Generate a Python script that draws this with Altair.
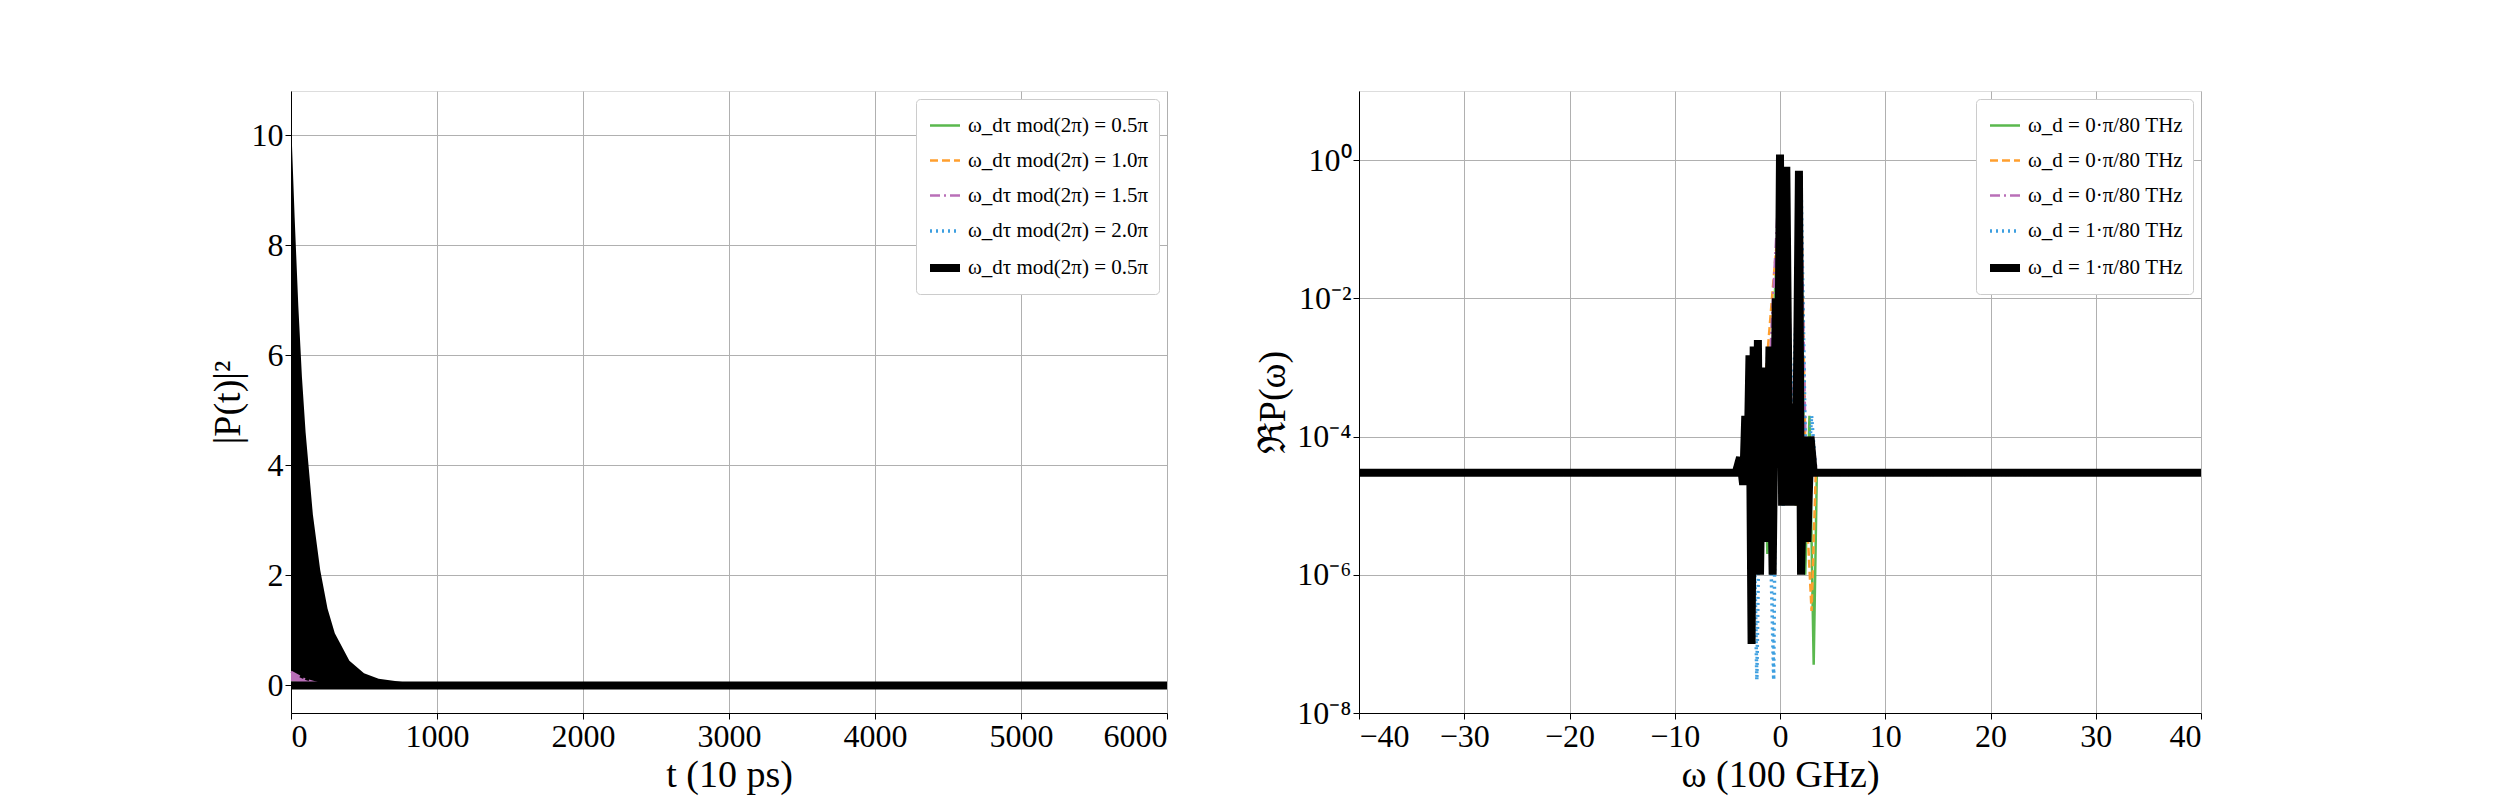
import altair as alt
import pandas as pd

FONT = "Liberation Serif"

# ---------- left panel data ----------
env_t = [0, 25, 50, 75, 100, 150, 200, 250, 300, 400, 500, 600, 800, 1000, 1500, 6000]
env_y = [10.3, 8.5, 6.9, 5.6, 4.6, 3.1, 2.1, 1.4, 0.95, 0.45, 0.22, 0.12, 0.05, 0.02, 0.0, 0.0]

purple_t = [0, 50, 100, 150, 200, 250, 300, 6000]
purple_y = [0.25, 0.16, 0.1, 0.06, 0.03, 0.01, 0.0, 0.0]

left_t = [0, 100, 200, 300, 500, 1000, 6000]
left_series = {
    "a": [0.05, 0.03, 0.01, 0.0, 0.0, 0.0, 0.0],
    "b": [0.04, 0.02, 0.01, 0.0, 0.0, 0.0, 0.0],
    "c": [0.25, 0.1, 0.03, 0.0, 0.0, 0.0, 0.0],
    "d": [0.03, 0.02, 0.01, 0.0, 0.0, 0.0, 0.0],
    "e": [0.0, 0.0, 0.0, 0.0, 0.0, 0.0, 0.0],
}
left_labels = ["ω_dτ mod(2π) = 0.5π", "ω_dτ mod(2π) = 1.0π", "ω_dτ mod(2π) = 1.5π",
               "ω_dτ mod(2π) = 2.0π", "ω_dτ mod(2π) = 0.5π"]

# ---------- right panel data ----------
r_green_x = [-40, -4, -3, -2.6, -2.3, -2.0, -1.6, -1.2, -0.6, -0.2, 0.0, 0.3, 0.6, 1.0, 1.5, 2.0, 2.4, 2.8, 3.2, 3.5, 40]
r_green_y = [3e-5, 3e-5, 4e-5, 2e-6, 1e-3, 1e-6, 5e-4, 2e-6, 5e-3, 1e-1, 1.0, 1e-5, 5e-1, 1e-4, 1e-5, 3e-1, 1e-6, 2e-4, 5e-8, 3e-5, 3e-5]
r_orange_x = [-40, -4, -3, -2.6, -2.2, -1.8, -1.3, -0.6, -0.2, 0.0, 0.3, 0.6, 1.0, 1.6, 2.0, 2.5, 3.0, 3.4, 40]
r_orange_y = [3e-5, 3e-5, 5e-5, 1e-6, 1e-3, 2e-6, 1e-3, 2e-2, 1e-1, 1.0, 1e-5, 6e-1, 2e-4, 1e-5, 4e-1, 1e-5, 3e-7, 3e-5, 3e-5]
r_purple_x = [-40, -4, -3, -2.5, -2.1, -1.6, -0.8, 0.0, 0.4, 0.7, 1.2, 2.0, 2.6, 3.1, 3.5, 40]
r_purple_y = [3e-5, 3e-5, 4e-5, 3e-6, 8e-4, 3e-6, 4e-3, 0.9, 2e-5, 4e-1, 5e-5, 3e-1, 3e-6, 1e-4, 3e-5, 3e-5]
r_blue_x = [-40, -4, -3, -2.5, -2.2, -1.8, -1.2, -0.6, -0.3, 0.0, 0.3, 0.6, 1.1, 2.0, 2.5, 3.0, 3.4, 40]
r_blue_y = [3e-5, 3e-5, 4e-5, 1e-5, 3e-8, 1e-3, 3e-4, 3e-8, 1e-2, 1.0, 1e-5, 7e-1, 1e-4, 5e-1, 1e-5, 2e-4, 3e-5, 3e-5]
r_black_x = [-40, -4.2, -3.8, -3.5, -3.3, -3.1, -2.9, -2.7, -2.5, -2.3, -2.1, -1.9, -1.6, -1.3, -1.0, -0.7, -0.4, -0.2, 0.0, 0.2, 0.4, 0.6, 0.9, 1.2, 1.5, 1.8, 2.0, 2.3, 2.6, 2.9, 3.2, 3.5, 40]
r_black_y = [3e-5, 3e-5, 5e-5, 2e-5, 2e-4, 3e-5, 1.5e-3, 1e-7, 2e-3, 1e-6, 2.5e-3, 1e-6, 1e-3, 3e-6, 2e-3, 1e-6, 1e-2, 1e-4, 1.2, 1e-5, 1e-1, 8e-1, 1e-5, 3e-4, 1e-5, 7e-1, 1e-6, 1e-4, 3e-6, 1e-4, 3e-5, 3e-5, 3e-5]
right_labels = ["ω_d = 0·π/80 THz", "ω_d = 0·π/80 THz", "ω_d = 0·π/80 THz",
                "ω_d = 1·π/80 THz", "ω_d = 1·π/80 THz"]

keys = ["a", "b", "c", "d", "e"]
colors = ["#5ab84e", "#ff9f2e", "#b96fb8", "#3d9fe0", "#000000"]
dashes = [[1, 0], [8, 4], [10, 4, 2, 4], [2, 4], [1, 0]]
widths = [2.5, 2.5, 2.5, 3.5, 8]

rows = []
for k in keys:
    for t, y in zip(left_t, left_series[k]):
        rows.append({"t": t, "y": y, "s": k})
ldf = pd.DataFrame(rows)
env_df = pd.DataFrame({"t": env_t, "y": env_y})
pur_df = pd.DataFrame({"t": purple_t, "y": purple_y})

rrows = []
for k, xs, ys in zip(keys, [r_green_x, r_orange_x, r_purple_x, r_blue_x, r_black_x],
                     [r_green_y, r_orange_y, r_purple_y, r_blue_y, r_black_y]):
    for x, y in zip(xs, ys):
        rrows.append({"x": x, "y": y, "s": k})
rdf = pd.DataFrame(rrows)


def label_expr(labels):
    parts = " : ".join(f"datum.value == '{k}' ? '{l}'" for k, l in zip(keys, labels))
    return parts + " : ''"


def legend(labels):
    return alt.Legend(title=None, orient="top-right", labelExpr=label_expr(labels),
                      labelFont=FONT, labelFontSize=21, labelLimit=0, symbolType="stroke",
                      symbolSize=900, fillColor="white",
                      strokeColor="#cccccc", cornerRadius=4, padding=10,
                      rowPadding=8, offset=8)


def enc_style(labels):
    return dict(
        color=alt.Color("s:N", scale=alt.Scale(domain=keys, range=colors), legend=legend(labels)),
        strokeDash=alt.StrokeDash("s:N", scale=alt.Scale(domain=keys, range=dashes), legend=legend(labels)),
        strokeWidth=alt.StrokeWidth("s:N", scale=alt.Scale(type="ordinal", domain=keys, range=widths), legend=legend(labels)),
    )


axis_common = dict(labelFont=FONT, titleFont=FONT, labelFontSize=32, titleFontSize=38,
                   titleFontWeight="normal", gridColor="#b0b0b0", domainColor="black",
                   tickColor="black", labelColor="black", titleColor="black", tickSize=6)

lx = alt.X("t:Q", scale=alt.Scale(domain=[0, 6000], nice=False),
           axis=alt.Axis(title="t (10 ps)", format="d", values=[0, 1000, 2000, 3000, 4000, 5000, 6000], **axis_common))
ly = alt.Y("y:Q", scale=alt.Scale(domain=[-0.5, 10.8], nice=False, zero=False),
           axis=alt.Axis(title="|P(t)|²", format="d", values=[0, 2, 4, 6, 8, 10], **axis_common))

area = alt.Chart(env_df).mark_area(color="black", opacity=1).encode(x=lx, y=ly)
parea = alt.Chart(pur_df).mark_area(color="#b96fb8", opacity=1).encode(x="t:Q", y="y:Q")
llines = alt.Chart(ldf).mark_line().encode(x="t:Q", y="y:Q", **enc_style(left_labels))
left = alt.layer(area, parea, llines).properties(width=876, height=622)

sup_expr = ("datum.value >= 0.5 ? '10⁰' : datum.value >= 0.005 ? '10⁻²' : "
            "datum.value >= 0.00005 ? '10⁻⁴' : datum.value >= 0.0000005 ? '10⁻⁶' : '10⁻⁸'")
rx = alt.X("x:Q", scale=alt.Scale(domain=[-40, 40], nice=False),
           axis=alt.Axis(title="ω (100 GHz)", format="d", values=list(range(-40, 41, 10)), **axis_common))
ry = alt.Y("y:Q", scale=alt.Scale(type="log", domain=[1e-8, 10], nice=False),
           axis=alt.Axis(title="ℜP(ω)", values=[1e-8, 1e-6, 1e-4, 1e-2, 1],
                         labelExpr=sup_expr, **axis_common))
right = alt.Chart(rdf).mark_line().encode(x=rx, y=ry, **enc_style(right_labels)).properties(width=842, height=622)

chart = alt.hconcat(left, right, spacing=70).resolve_scale(
    color="independent", strokeDash="independent", strokeWidth="independent"
).resolve_legend(color="independent", strokeDash="independent", strokeWidth="independent").properties(
    padding={"left": 200, "top": 82, "right": 10, "bottom": 10}
).configure_view(stroke="black", strokeWidth=1.5).configure(background="white")

chart.save("out.html", embed_options={"renderer": "svg", "actions": False})
